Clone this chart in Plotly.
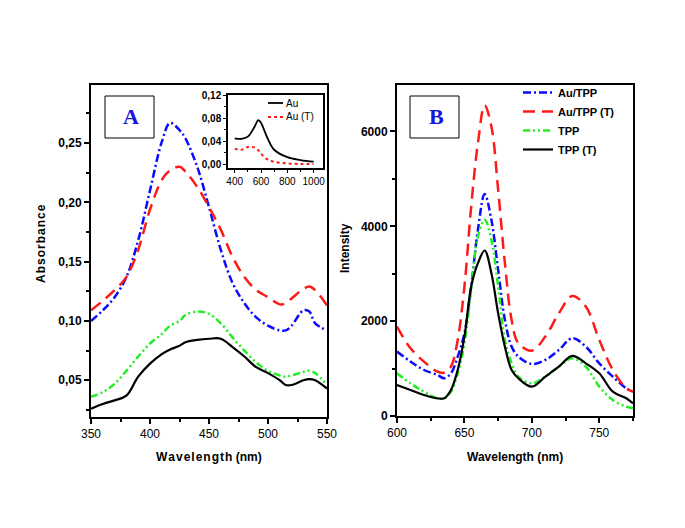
import plotly.graph_objects as go

# ---------------- Panel A data (absorbance) ----------------
wl_a = [350, 360, 370, 380, 390, 400, 410, 417, 425, 430, 440, 450, 460, 470,
        480, 490, 500, 510, 515, 520, 530, 535, 540, 550]
abs_au_tpp = [0.100, 0.109, 0.120, 0.137, 0.168, 0.210, 0.251, 0.267, 0.261, 0.254,
              0.230, 0.196, 0.160, 0.132, 0.115, 0.103, 0.096, 0.092, 0.092, 0.096,
              0.109, 0.108, 0.098, 0.092]
abs_au_tpp_t = [0.109, 0.117, 0.126, 0.137, 0.160, 0.194, 0.219, 0.227, 0.230, 0.226,
                0.213, 0.196, 0.177, 0.154, 0.137, 0.126, 0.120, 0.114, 0.115, 0.119,
                0.127, 0.129, 0.126, 0.113]
abs_tpp = [0.036, 0.040, 0.047, 0.058, 0.070, 0.081, 0.089, 0.096, 0.100, 0.105,
           0.108, 0.106, 0.098, 0.086, 0.075, 0.065, 0.058, 0.054, 0.053, 0.054,
           0.057, 0.058, 0.056, 0.046]
abs_tpp_t = [0.026, 0.030, 0.033, 0.037, 0.053, 0.064, 0.072, 0.076, 0.079, 0.082,
             0.084, 0.085, 0.085, 0.078, 0.070, 0.061, 0.056, 0.050, 0.046, 0.046,
             0.050, 0.051, 0.050, 0.043]

# ---------------- Inset data ----------------
wl_inset = [400, 450, 500, 550, 580, 600, 650, 700, 800, 900, 1000]
abs_au = [0.045, 0.044, 0.048, 0.065, 0.077, 0.072, 0.045, 0.025, 0.012, 0.007, 0.004]
abs_au_t = [0.027, 0.025, 0.030, 0.029, 0.024, 0.018, 0.008, 0.004, 0.001, 0.000, 0.000]
inset_names = ["Au", "Au (T)"]

# ---------------- Panel B data (emission intensity) ----------------
wl_b = [600, 610, 620, 630, 635, 640, 645, 650, 655, 660, 665, 670, 675, 680,
        685, 690, 700, 710, 720, 730, 740, 750, 760, 770, 775]
int_au_tpp = [1358, 1147, 970, 865, 795, 900, 1250, 1745, 2730, 3925, 4680, 4136,
              3080, 2026, 1463, 1252, 1097, 1182, 1393, 1640, 1463, 1111, 830, 584, 513]
int_au_tpp_t = [1885, 1428, 1147, 935, 914, 1041, 1604, 2730, 4417, 5754, 6550, 6105,
                4769, 3222, 2026, 1533, 1379, 1674, 2166, 2532, 2307, 1604, 971, 584, 513]
int_tpp = [900, 689, 513, 373, 373, 513, 900, 1533, 2659, 3784, 4136, 3714, 2729,
           1604, 1111, 830, 689, 830, 1041, 1217, 1041, 619, 338, 197, 162]
int_tpp_t = [654, 549, 443, 373, 373, 549, 971, 1674, 2729, 3222, 3490, 3010, 2166,
             1463, 971, 795, 619, 830, 1041, 1266, 1111, 900, 513, 373, 267]

# ---------------- Tick labels ----------------
a_yticks = [0.05, 0.10, 0.15, 0.20, 0.25]
a_yticktext = ["0,05", "0,10", "0,15", "0,20", "0,25"]
a_xticks = [350, 400, 450, 500, 550]
b_xticks = [600, 650, 700, 750]
b_yticks = [0, 2000, 4000, 6000]
inset_yticks = [0.00, 0.04, 0.08, 0.12]
inset_yticktext = ["0,00", "0,04", "0,08", "0,12"]
inset_xticks = [400, 600, 800, 1000]

BLUE = "#0a0aff"
RED = "#ff1a1a"
GREEN = "#22ee22"
BLACK = "#000000"

DASH_BLUE = "8px,3px,2px,3px"
DASH_RED = "12px,7px"
DASH_GREEN = "7px,3px,2px,3px,2px,3px"

W, H = 685, 528


def px(x):
    return x / W


def py(y):
    return 1 - y / H


fig = go.Figure()

# Panel A
fig.add_trace(go.Scatter(x=wl_a, y=abs_au_tpp, mode="lines", xaxis="x", yaxis="y",
                         line=dict(color=BLUE, width=2.5, dash=DASH_BLUE, shape="spline"),
                         showlegend=False))
fig.add_trace(go.Scatter(x=wl_a, y=abs_au_tpp_t, mode="lines", xaxis="x", yaxis="y",
                         line=dict(color=RED, width=2.5, dash=DASH_RED, shape="spline"),
                         showlegend=False))
fig.add_trace(go.Scatter(x=wl_a, y=abs_tpp, mode="lines", xaxis="x", yaxis="y",
                         line=dict(color=GREEN, width=2.5, dash=DASH_GREEN, shape="spline"),
                         showlegend=False))
fig.add_trace(go.Scatter(x=wl_a, y=abs_tpp_t, mode="lines", xaxis="x", yaxis="y",
                         line=dict(color=BLACK, width=2.2, shape="spline"),
                         showlegend=False))

# Inset
fig.add_trace(go.Scatter(x=wl_inset, y=abs_au, mode="lines", xaxis="x3", yaxis="y3",
                         name=inset_names[0], showlegend=False,
                         line=dict(color=BLACK, width=1.8, shape="spline")))
fig.add_trace(go.Scatter(x=wl_inset, y=abs_au_t, mode="lines", xaxis="x3", yaxis="y3",
                         name=inset_names[1], showlegend=False,
                         line=dict(color=RED, width=2, dash="dot", shape="spline")))

# Panel B
fig.add_trace(go.Scatter(x=wl_b, y=int_au_tpp, mode="lines", xaxis="x2", yaxis="y2",
                         name="<b>Au/TPP</b>",
                         line=dict(color=BLUE, width=2.5, dash=DASH_BLUE, shape="spline")))
fig.add_trace(go.Scatter(x=wl_b, y=int_au_tpp_t, mode="lines", xaxis="x2", yaxis="y2",
                         name="<b>Au/TPP (T)</b>",
                         line=dict(color=RED, width=2.5, dash=DASH_RED, shape="spline")))
fig.add_trace(go.Scatter(x=wl_b, y=int_tpp, mode="lines", xaxis="x2", yaxis="y2",
                         name="<b>TPP</b>",
                         line=dict(color=GREEN, width=2.5, dash=DASH_GREEN, shape="spline")))
fig.add_trace(go.Scatter(x=wl_b, y=int_tpp_t, mode="lines", xaxis="x2", yaxis="y2",
                         name="<b>TPP (T)</b>",
                         line=dict(color=BLACK, width=2.2, shape="spline")))

FONT = "Liberation Sans, Arial, sans-serif"
tickfont = dict(family=FONT, size=12, color="black")
axis_common = dict(showline=True, linewidth=2, linecolor="black", mirror=True,
                   ticks="outside", ticklen=5, tickwidth=1.5, tickcolor="black",
                   showgrid=False, zeroline=False, tickfont=tickfont, automargin=False)
inset_common = dict(showline=True, linewidth=1.5, linecolor="black", mirror=True,
                    ticks="outside", ticklen=3, tickwidth=1, tickcolor="black",
                    showgrid=False, zeroline=False, automargin=False,
                    tickfont=dict(family=FONT, size=10, color="black"))

fig.update_layout(
    width=W, height=H,
    margin=dict(l=0, r=0, t=0, b=0, pad=0, autoexpand=False),
    paper_bgcolor="white", plot_bgcolor="white",
    showlegend=True,
    xaxis=dict(domain=[px(91), px(327)], range=[350, 550], anchor="y",
               tickvals=a_xticks, tickprefix="<b>", ticksuffix="</b>",
               minor=dict(dtick=25, tick0=0, ticklen=3, tickcolor="black", ticks="outside"),
               **axis_common),
    yaxis=dict(domain=[py(417), py(85)], range=[0.019, 0.299], anchor="x",
               tickvals=a_yticks, ticktext=["<b>%s</b>" % t for t in a_yticktext],
               minor=dict(dtick=0.025, tick0=0, ticklen=3, tickcolor="black", ticks="outside"),
               **axis_common),
    xaxis2=dict(domain=[px(397), px(633)], range=[600, 775], anchor="y2",
                tickvals=b_xticks, tickprefix="<b>", ticksuffix="</b>",
                minor=dict(dtick=25, tick0=600, ticklen=3, tickcolor="black", ticks="outside"),
                **axis_common),
    yaxis2=dict(domain=[py(416), py(85)], range=[0, 6980], anchor="x2",
                tickvals=b_yticks, ticktext=["<b>%d</b>" % t for t in b_yticks],
                minor=dict(dtick=1000, ticklen=3, tickcolor="black", ticks="outside"),
                **axis_common),
    xaxis3=dict(domain=[px(228), px(323)], range=[349, 1071], anchor="y3",
                tickvals=inset_xticks, tickprefix="<b>", ticksuffix="</b>",
                minor=dict(dtick=100, tick0=0, ticklen=2, tickcolor="black", ticks="outside"),
                **inset_common),
    yaxis3=dict(domain=[py(168), py(95)], range=[-0.007, 0.121], anchor="x3",
                tickvals=inset_yticks, ticktext=["<b>%s</b>" % t for t in inset_yticktext],
                minor=dict(dtick=0.02, tick0=0, ticklen=2, tickcolor="black", ticks="outside"),
                **inset_common),
    legend=dict(x=px(518), y=py(78), xanchor="left", yanchor="top",
                bgcolor="rgba(0,0,0,0)", borderwidth=0,
                font=dict(family=FONT, size=11, color="black"),
                tracegroupgap=0, itemwidth=30),
)

# Inset legend (key samples + labels)
fig.add_shape(type="line", xref="paper", yref="paper",
              x0=px(268), x1=px(283), y0=py(103), y1=py(103),
              line=dict(color=BLACK, width=1.8))
fig.add_shape(type="line", xref="paper", yref="paper",
              x0=px(268), x1=px(283), y0=py(117), y1=py(117),
              line=dict(color=RED, width=2, dash="dot"))
inset_leg_font = dict(family=FONT, size=10, color="black")
fig.add_annotation(text=inset_names[0], xref="paper", yref="paper", x=px(284), y=py(103),
                   xanchor="left", yanchor="middle", showarrow=False, font=inset_leg_font)
fig.add_annotation(text=inset_names[1], xref="paper", yref="paper", x=px(284), y=py(117),
                   xanchor="left", yanchor="middle", showarrow=False, font=inset_leg_font)

# Panel label boxes
fig.add_shape(type="rect", xref="paper", yref="paper",
              x0=px(105), x1=px(154), y0=py(138), y1=py(96),
              line=dict(color="black", width=1), fillcolor="white")
fig.add_shape(type="rect", xref="paper", yref="paper",
              x0=px(410), x1=px(459), y0=py(138), y1=py(96),
              line=dict(color="black", width=1), fillcolor="white")
label_font = dict(family="Liberation Serif, serif", size=22, color="#1515e0")
fig.add_annotation(text="<b>A</b>", xref="paper", yref="paper", x=px(131), y=py(117),
                   xanchor="center", yanchor="middle", showarrow=False, font=label_font)
fig.add_annotation(text="<b>B</b>", xref="paper", yref="paper", x=px(436), y=py(117),
                   xanchor="center", yanchor="middle", showarrow=False, font=label_font)

# Axis titles
title_font = dict(family=FONT, size=12, color="black")
hs = "\u200a"
fig.add_annotation(text="<b>" + hs.join("Absorbance") + "</b>", xref="paper", yref="paper",
                   x=px(41), y=py(244), textangle=-90, showarrow=False,
                   xanchor="center", yanchor="middle", font=title_font)
fig.add_annotation(text="<b>Intensity</b>", xref="paper", yref="paper",
                   x=px(345), y=py(248), textangle=-90, showarrow=False,
                   xanchor="center", yanchor="middle", font=title_font)
fig.add_annotation(text="<b>" + hs.join("Wavelength") + " (nm)</b>",
                   xref="paper", yref="paper", x=px(209), y=py(457), showarrow=False,
                   xanchor="center", yanchor="middle", font=title_font)
fig.add_annotation(text="<b>Wavelength (nm)</b>", xref="paper", yref="paper",
                   x=px(515), y=py(457), showarrow=False,
                   xanchor="center", yanchor="middle", font=title_font)

fig.write_html("out.html", config={"displayModeBar": False},
               post_script="document.body.style.margin='0px';")
